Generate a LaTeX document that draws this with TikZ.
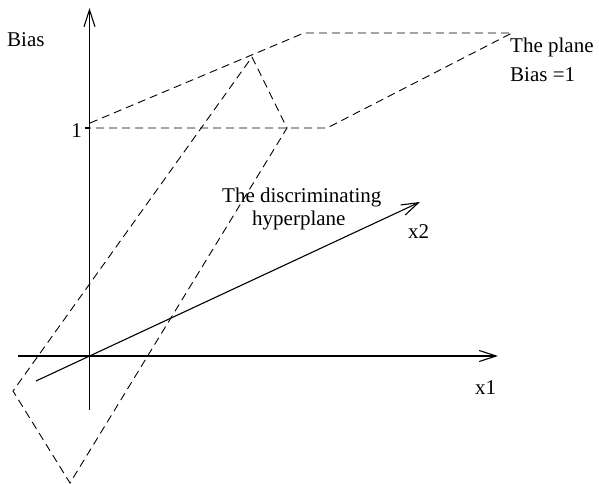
\documentclass[tikz,border=0pt]{standalone}
\usepackage{fontspec}
\setmainfont{Liberation Serif}
\usetikzlibrary{arrows.meta}
\begin{document}
\begin{tikzpicture}[x=1pt,y=-1pt,
  axis/.style={line width=1.1pt,-{Straight Barb[length=17pt,width=11pt,line width=1.1pt]}},
  plain/.style={line width=1.1pt},
  dsh/.style={line width=0.9pt,dash pattern=on 8pt off 5pt},
  lbl/.style={inner sep=0pt,anchor=base west,font=\fontsize{21}{25}\selectfont}]
\useasboundingbox (0,0) rectangle (599,484);
% axes
\coordinate (vb) at (89.5,410);
\coordinate (vt) at (89.5,8);
\coordinate (hl) at (18,356);
\coordinate (hr) at (498,356);
\coordinate (xs) at (36,381);
\coordinate (xe) at (420,202);
\draw[plain] (vb) -- (89.5,395);
\draw[axis] (89.5,395) -- (vt);
\draw[axis] (hl) -- (hr);
\draw[axis] (xs) -- (xe);
% plane Bias = 1
\coordinate (p1) at (90,123);
\coordinate (p2) at (304,33);
\coordinate (p3) at (512,33);
\coordinate (p4) at (327,128);
\coordinate (p5) at (90,128);
\draw[dsh] (p1) -- (p2) -- (p3) -- (p4) -- (p5);
% discriminating hyperplane
\coordinate (h1) at (252,57);
\coordinate (h2) at (287,128);
\coordinate (h3) at (70,483);
\coordinate (h4) at (13,391);
\draw[dsh] (h1) -- (h2) -- (h3) -- (h4) -- cycle;
% labels
\node[lbl] (bias) at (7,47) {Bias};
\node[lbl,anchor=base east] (one) at (82,137) {1};
\coordinate (tick) at (89.5,128);
\draw[plain] (84.5,128) -- (tick);
\node[lbl] (plane1) at (510,53) {The plane};
\node[lbl] (plane2) at (510,82) {Bias =1};
\node[lbl] (disc1) at (222,202) {The discriminating};
\node[lbl] (disc2) at (252,225) {hyperplane};
\node[lbl] (lx2) at (408,238) {x2};
\node[lbl] (lx1) at (475,394) {x1};
\end{tikzpicture}
\end{document}
